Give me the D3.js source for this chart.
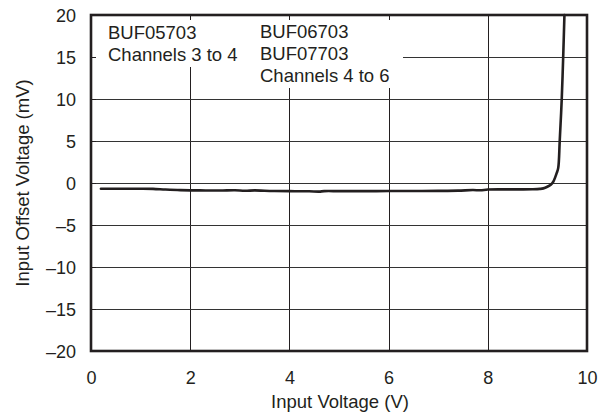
<!DOCTYPE html>
<html><head><meta charset="utf-8">
<script src="https://cdn.jsdelivr.net/npm/d3@7"></script>
<style>
html,body{margin:0;padding:0;background:#fff;}
svg text{font-family:"Liberation Sans",Arial,Helvetica,sans-serif;fill:#231f20;}
</style></head>
<body><svg id="c" width="600" height="413"></svg>
<script>
const inputVoltage = [0.2, 0.6, 1.0, 1.25, 1.5, 1.8, 2.2, 2.6, 2.9, 3.1, 3.3, 3.5, 3.7, 4.0, 4.4, 4.6, 4.7, 5.0, 5.5, 6.0, 6.5, 7.0, 7.4, 7.7, 7.85, 8.0, 8.3, 8.6, 8.9, 9.05, 9.12, 9.2, 9.27, 9.32, 9.36, 9.39, 9.42, 9.45, 9.49, 9.52, 9.545];
const offsetMv = [-0.68, -0.68, -0.68, -0.7, -0.78, -0.85, -0.88, -0.9, -0.86, -0.93, -0.88, -0.93, -0.96, -0.97, -0.99, -1.03, -0.97, -0.97, -0.97, -0.96, -0.96, -0.94, -0.91, -0.84, -0.87, -0.78, -0.76, -0.76, -0.74, -0.7, -0.64, -0.45, -0.2, 0.15, 0.7, 1.2, 1.8, 5.0, 9.9, 15.0, 20.0];
const xTicks = [0, 2, 4, 6, 8, 10];
const yTicks = [-20, -15, -10, -5, 0, 5, 10, 15, 20];
const xTitle = "Input Voltage (V)";
const yTitle = "Input Offset Voltage (mV)";
const noteLeft = ["BUF05703", "Channels 3 to 4"];
const noteRight = ["BUF06703", "BUF07703", "Channels 4 to 6"];

const L = 91, R = 587, T = 15, B = 351;
const svg = d3.select("#c");
const x = d3.scaleLinear().domain([0, 10]).range([L, R]);
const y = d3.scaleLinear().domain([-20, 20]).range([B, T]);
const fmt = v => v < 0 ? "\u2013" + Math.abs(v) : String(v);
const ink = "#231f20";
const FS = 18.5;

// grid
const g = svg.append("g");
g.selectAll("line.v").data(xTicks.filter(d => d > 0 && d < 10)).enter().append("line")
  .attr("x1", d => Math.round(x(d)) + 0.5).attr("x2", d => Math.round(x(d)) + 0.5)
  .attr("y1", T).attr("y2", B).attr("stroke", ink).attr("stroke-width", 1);
g.selectAll("line.h").data(yTicks.filter(d => d > -20 && d < 20)).enter().append("line")
  .attr("y1", d => Math.round(y(d)) + 0.5).attr("y2", d => Math.round(y(d)) + 0.5)
  .attr("x1", L).attr("x2", R).attr("stroke", "#333").attr("stroke-width", 1);

// white label backgrounds
svg.append("rect").attr("x", L + 3).attr("y", T + 4).attr("width", 164).attr("height", 48).attr("fill", "#fff");
svg.append("rect").attr("x", 255).attr("y", T + 4).attr("width", 148).attr("height", 69).attr("fill", "#fff");

// inward ticks
svg.selectAll("line.tt").data(xTicks.filter(d => d > 0 && d < 10)).enter().append("line")
  .attr("x1", d => Math.round(x(d)) + 0.5).attr("x2", d => Math.round(x(d)) + 0.5)
  .attr("y1", T).attr("y2", T + 5).attr("stroke", ink);
svg.selectAll("line.lt").data(yTicks.filter(d => d > -20 && d < 20)).enter().append("line")
  .attr("y1", d => Math.round(y(d)) + 0.5).attr("y2", d => Math.round(y(d)) + 0.5)
  .attr("x1", L).attr("x2", L + 5).attr("stroke", ink);

// notes
const nl = svg.append("text").attr("font-size", FS);
noteLeft.forEach((t, i) => nl.append("tspan").attr("x", 108).attr("y", 38.5 + i * 22).text(t));
const nr = svg.append("text").attr("font-size", FS);
noteRight.forEach((t, i) => nr.append("tspan").attr("x", 260).attr("y", 37.5 + i * 22.3).text(t));

// curve
const pts = inputVoltage.map((v, i) => [v, offsetMv[i]]);
svg.append("path").datum(pts)
  .attr("d", d3.line().x(d => x(d[0])).y(d => y(d[1])).curve(d3.curveCatmullRom.alpha(0.5)))
  .attr("fill", "none").attr("stroke", "#231f20").attr("stroke-width", 2.6)
  .attr("stroke-linejoin", "round").attr("stroke-linecap", "round");

// frame
svg.append("rect").attr("x", L).attr("y", T).attr("width", R - L).attr("height", B - T)
  .attr("fill", "none").attr("stroke", ink).attr("stroke-width", 2.6);

// axes labels via d3 axes (no domain lines/ticks)
const xa = svg.append("g").attr("transform", `translate(0,${B})`)
  .call(d3.axisBottom(x).tickValues(xTicks).tickFormat(fmt).tickSize(0).tickPadding(0));
xa.select(".domain").remove();
xa.selectAll("text").attr("font-size", 18).attr("dy", null).attr("y", 32.5)
  .attr("font-family", "Liberation Sans, Arial, sans-serif").attr("fill", ink);

const ya = svg.append("g").attr("transform", `translate(${L},0)`)
  .call(d3.axisLeft(y).tickValues(yTicks).tickFormat(fmt).tickSize(0).tickPadding(15));
ya.select(".domain").remove();
ya.selectAll("text").attr("font-size", 18).attr("dy", "0.35em")
  .attr("font-family", "Liberation Sans, Arial, sans-serif").attr("fill", ink);

svg.append("text").attr("x", 340).attr("y", 408).attr("text-anchor", "middle")
  .attr("font-size", FS).text(xTitle);
svg.append("text").attr("transform", `translate(29,${(T + B) / 2}) rotate(-90)`)
  .attr("text-anchor", "middle").attr("font-size", FS).text(yTitle);
</script></body></html>
